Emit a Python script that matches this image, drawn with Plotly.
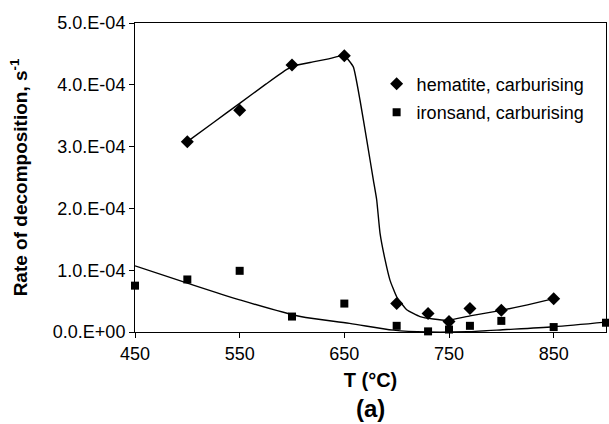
import plotly.graph_objects as go

# Measured decomposition rates (s^-1) against temperature (°C)
hem_T = [500, 550, 600, 650, 700, 730, 750, 770, 800, 850]
hem_rate = [3.08e-4, 3.59e-4, 4.32e-4, 4.47e-4, 0.46e-4, 0.30e-4, 0.17e-4, 0.38e-4, 0.35e-4, 0.54e-4]

iron_T = [450, 500, 550, 600, 650, 700, 730, 750, 770, 800, 850, 900]
iron_rate = [0.75e-4, 0.85e-4, 0.99e-4, 0.25e-4, 0.46e-4, 0.10e-4, 0.01e-4, 0.04e-4, 0.10e-4, 0.18e-4, 0.08e-4, 0.15e-4]

# Trend curves drawn through each data set
hem_fit_T = [500, 525, 550, 575, 595, 605, 620, 635, 650, 658.6, 665, 671.4, 677.7, 680.9, 684.1,
             688.9, 693.6, 700, 709.6, 722.3, 735, 749.4, 770, 800, 825, 850]
hem_fit_rate = [3.08e-4, 3.39e-4, 3.70e-4, 4.01e-4, 4.25e-4, 4.32e-4, 4.37e-4, 4.42e-4, 4.47e-4,
                4.29e-4, 3.75e-4, 3.11e-4, 2.46e-4, 2.14e-4, 1.60e-4, 1.17e-4, 0.84e-4, 0.57e-4,
                0.36e-4, 0.25e-4, 0.21e-4, 0.19e-4, 0.26e-4, 0.35e-4, 0.44e-4, 0.54e-4]

iron_fit_T = [450, 500, 550, 608, 655, 697, 729, 767, 805, 850, 900]
iron_fit_rate = [1.07e-4, 0.79e-4, 0.52e-4, 0.25e-4, 0.14e-4, 0.03e-4, 0.0, 0.005e-4, 0.04e-4, 0.086e-4, 0.16e-4]

y_ticks = [0, 1e-4, 2e-4, 3e-4, 4e-4, 5e-4]
y_tick_text = ["0.0.E+00", "1.0.E-04", "2.0.E-04", "3.0.E-04", "4.0.E-04", "5.0.E-04"]
x_ticks = [450, 550, 650, 750, 850]

FONT = "Liberation Sans, Arial, sans-serif"

fig = go.Figure()

fig.add_trace(go.Scatter(
    x=hem_fit_T, y=hem_fit_rate, mode="lines",
    line=dict(color="black", width=1.4, shape="spline", smoothing=0.4),
    showlegend=False, hoverinfo="skip",
))
fig.add_trace(go.Scatter(
    x=iron_fit_T, y=iron_fit_rate, mode="lines",
    line=dict(color="black", width=1.4, shape="spline", smoothing=0.8),
    showlegend=False, hoverinfo="skip",
))

fig.add_trace(go.Scatter(
    x=hem_T, y=hem_rate, mode="markers", name="hematite, carburising",
    marker=dict(symbol="diamond", size=10, color="black"),
    legendgroup="hem", cliponaxis=False,
))
fig.add_trace(go.Scatter(
    x=iron_T, y=iron_rate, mode="markers", name="ironsand, carburising",
    marker=dict(symbol="square", size=8, color="black"),
    legendgroup="iron", cliponaxis=False,
))

fig.update_layout(
    width=609, height=424,
    margin=dict(l=135, r=3, t=23, b=92),
    paper_bgcolor="white", plot_bgcolor="white",
    font=dict(family=FONT, size=18, color="black"),
    showlegend=True,
    legend=dict(
        x=0.513, y=0.862, xanchor="left", yanchor="top",
        bgcolor="rgba(0,0,0,0)", traceorder="grouped", tracegroupgap=2,
        font=dict(family=FONT, size=18, color="black"),
        itemwidth=30,
    ),
    xaxis=dict(
        range=[450, 900], tickvals=x_ticks,
        showline=True, linecolor="black", linewidth=1, mirror=True,
        ticks="outside", ticklen=5, tickcolor="black",
        tickfont=dict(size=18),
        showgrid=False, zeroline=False,
        title=dict(text="<b>T (°C)</b>", font=dict(family=FONT, size=20), standoff=10),
    ),
    yaxis=dict(
        range=[0, 5e-4], tickvals=y_ticks, ticktext=y_tick_text,
        showline=True, linecolor="black", linewidth=1, mirror=True,
        ticks="outside", ticklen=5, tickcolor="black",
        tickfont=dict(size=18),
        showgrid=False, zeroline=False,
        title=dict(text="<b>Rate of decomposition, s<sup>-1</sup></b>",
                   font=dict(family=FONT, size=19), standoff=20),
    ),
    annotations=[dict(
        text="<b>(a)</b>", x=0.5, y=0, xref="paper", yref="paper",
        xanchor="center", yanchor="middle", yshift=-76, showarrow=False,
        font=dict(family=FONT, size=24, color="black"),
    )],
)

fig.write_html("out.html")
